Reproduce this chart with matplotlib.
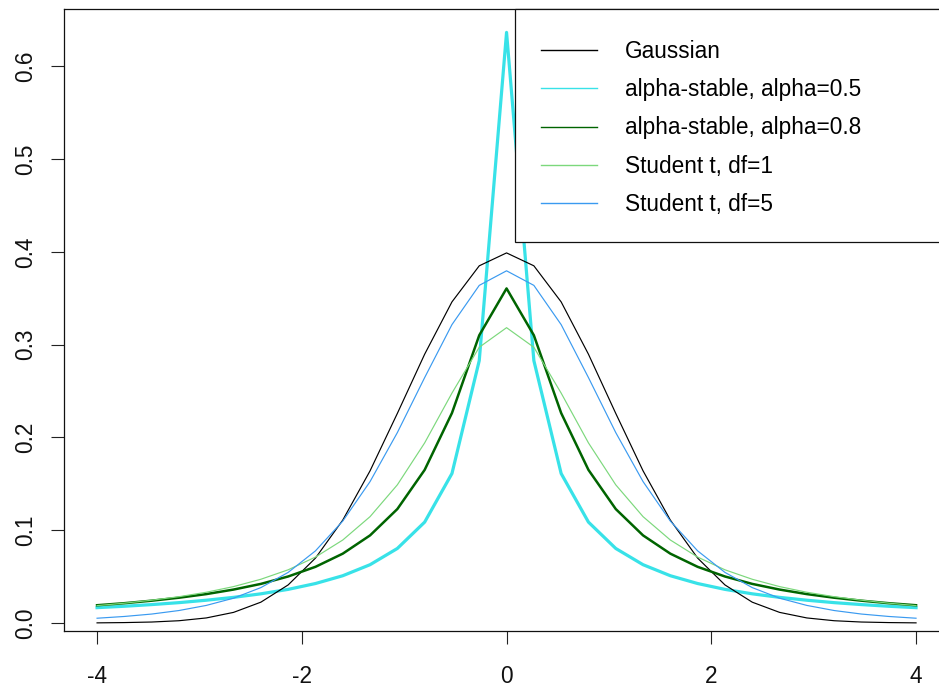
import matplotlib
matplotlib.use("Agg")
import matplotlib.pyplot as plt
from matplotlib.patches import Rectangle

plt.rcParams['font.family'] = ['Liberation Sans', 'DejaVu Sans']
plt.rcParams['axes.unicode_minus'] = False

# x grid: 31 points from -4 to 4
x = [-4.0, -3.7333, -3.4667, -3.2, -2.9333, -2.6667, -2.4, -2.1333, -1.8667, -1.6,
     -1.3333, -1.0667, -0.8, -0.5333, -0.2667, 0.0, 0.2667, 0.5333, 0.8, 1.0667,
     1.3333, 1.6, 1.8667, 2.1333, 2.4, 2.6667, 2.9333, 3.2, 3.4667, 3.7333, 4.0]

gaussian = [0.0001, 0.0004, 0.0010, 0.0024, 0.0054, 0.0114, 0.0224, 0.0410, 0.0699, 0.1109,
            0.1640, 0.2259, 0.2897, 0.3461, 0.3850, 0.3989, 0.3850, 0.3461, 0.2897, 0.2259,
            0.1640, 0.1109, 0.0699, 0.0410, 0.0224, 0.0114, 0.0054, 0.0024, 0.0010, 0.0004, 0.0001]

stable_05 = [0.0165, 0.0180, 0.0198, 0.0219, 0.0245, 0.0276, 0.0314, 0.0362, 0.0425, 0.0509,
             0.0628, 0.0803, 0.1087, 0.1611, 0.2828, 0.6366, 0.2828, 0.1611, 0.1087, 0.0803,
             0.0628, 0.0509, 0.0425, 0.0362, 0.0314, 0.0276, 0.0245, 0.0219, 0.0198, 0.0180, 0.0165]

stable_08 = [0.0191, 0.0213, 0.0240, 0.0272, 0.0311, 0.0360, 0.0421, 0.0501, 0.0605, 0.0747,
             0.0944, 0.1228, 0.1650, 0.2263, 0.3101, 0.3606, 0.3101, 0.2263, 0.1650, 0.1228,
             0.0944, 0.0747, 0.0605, 0.0501, 0.0421, 0.0360, 0.0311, 0.0272, 0.0240, 0.0213, 0.0191]

student_1 = [0.0187, 0.0213, 0.0245, 0.0283, 0.0331, 0.0392, 0.0471, 0.0573, 0.0710, 0.0894,
             0.1146, 0.1489, 0.1941, 0.2478, 0.2972, 0.3183, 0.2972, 0.2478, 0.1941, 0.1489,
             0.1146, 0.0894, 0.0710, 0.0573, 0.0471, 0.0392, 0.0331, 0.0283, 0.0245, 0.0213, 0.0187]

student_5 = [0.0051, 0.0070, 0.0096, 0.0134, 0.0189, 0.0267, 0.0381, 0.0545, 0.0777, 0.1098,
             0.1524, 0.2052, 0.2645, 0.3216, 0.3639, 0.3796, 0.3639, 0.3216, 0.2645, 0.2052,
             0.1524, 0.1098, 0.0777, 0.0545, 0.0381, 0.0267, 0.0189, 0.0134, 0.0096, 0.0070, 0.0051]

labels = ["Gaussian", "alpha-stable, alpha=0.5", "alpha-stable, alpha=0.8",
          "Student t, df=1", "Student t, df=5"]
x_ticks = [-4, -2, 0, 2, 4]
y_ticks = [0.0, 0.1, 0.2, 0.3, 0.4, 0.5, 0.6]
y_tick_labels = ["0.0", "0.1", "0.2", "0.3", "0.4", "0.5", "0.6"]

FS = 16.3

fig = plt.figure(figsize=(9.39, 6.89), dpi=100)
ax = fig.add_axes([0.06848, 0.08374, 0.94196, 0.90276])

l_s05, = ax.plot(x, stable_05, color="#38E2E8", lw=2.3, solid_joinstyle='round')
l_g, = ax.plot(x, gaussian, color="black", lw=0.85)
l_s08, = ax.plot(x, stable_08, color="#006400", lw=1.8, solid_joinstyle='round')
l_t1, = ax.plot(x, student_1, color="#7CD87C", lw=0.85)
l_t5, = ax.plot(x, student_5, color="#3A9AF0", lw=0.85)

ax.set_xlim(-4.32, 4.32)
ax.set_ylim(-0.009, 0.6615)

ax.set_xticks(x_ticks)
ax.set_xticklabels([str(t) for t in x_ticks])
ax.set_yticks(y_ticks)
ax.set_yticklabels(y_tick_labels, rotation=90, va='center')

ax.tick_params(axis='both', length=9.7, width=0.8, color='#222222',
               labelsize=FS, labelcolor='#111111')
ax.tick_params(axis='x', pad=14.5)
ax.tick_params(axis='y', pad=10)

for sp in ax.spines.values():
    sp.set_linewidth(0.9)
    sp.set_color('#111111')

# legend frame (extends past the right edge, as in the reference)
x0 = (515 - 64.5) / (949.5 - 64.5)
y_b = (631.3 - 242.3) / 622.0
frame = Rectangle((x0, y_b), 1.2 - x0, 1.0 - y_b, transform=ax.transAxes,
                  facecolor='white', edgecolor='#111111', lw=0.9,
                  clip_on=False, zorder=4)
ax.add_patch(frame)

leg = ax.legend([l_g, l_s05, l_s08, l_t1, l_t5], labels,
                loc='upper left', bbox_to_anchor=(x0, 1 - 4.0 / 622),
                borderaxespad=0, frameon=False, fontsize=FS,
                borderpad=1.19, labelspacing=0.668, handlelength=2.47,
                handletextpad=1.21)
leg.set_zorder(5)
for ln in leg.get_lines():
    ln.set_linewidth(1.0)

fig.savefig("out.png", dpi=100)
